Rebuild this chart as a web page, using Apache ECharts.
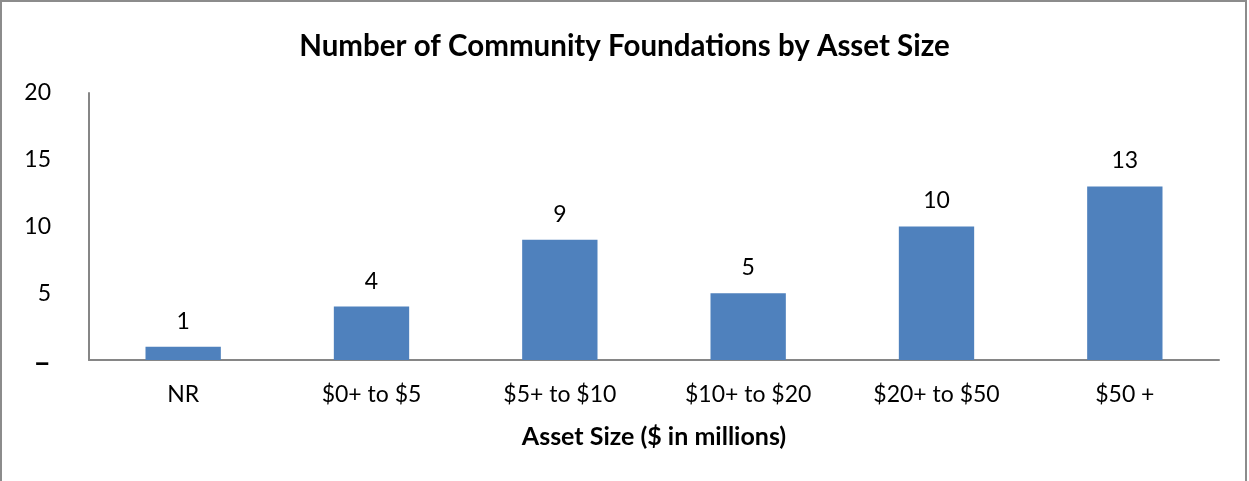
<!DOCTYPE html>
<html>
<head>
<meta charset="utf-8">
<script src="https://cdn.jsdelivr.net/npm/echarts@6/dist/echarts.min.js"></script>
<style>
  html, body { margin: 0; padding: 0; background: #fff; }
  #chart { width: 1249px; height: 481px; }
  .frame {
    position: absolute; left: 0; top: 0;
    width: 1247px; height: 490px;
    box-sizing: border-box;
    border: 2px solid #8c8c8c;
    pointer-events: none;
  }
</style>
</head>
<body>
<div id="chart"></div>
<div class="frame"></div>
<script>
// 数据
const categories = ['NR', '$0+ to $5', '$5+ to $10', '$10+ to $20', '$20+ to $50', '$50 +'];
const counts = [1, 4, 9, 5, 10, 13];
const yTicks = [0, 5, 10, 15, 20];

const font = 'Lato, "Open Sans", sans-serif';

const myChart = echarts.init(document.getElementById('chart'), null, { renderer: 'canvas' });

const option = {
  animation: false,
  title: {
    text: 'Number of Community Foundations by Asset Size',
    left: 'center',
    top: 26,
    textStyle: { color: '#000', fontSize: 29.5, fontWeight: 'bold', fontFamily: font }
  },
  grid: { left: 89, right: 30, top: 93, bottom: 121, containLabel: false },
  xAxis: {
    type: 'category',
    data: categories,
    name: 'Asset Size ($ in millions)',
    nameLocation: 'middle',
    nameGap: 64,
    nameTextStyle: { color: '#000', fontSize: 25, fontWeight: 'bold', fontFamily: font },
    axisLine: { lineStyle: { color: '#868686', width: 2 } },
    axisTick: { show: false },
    axisLabel: { color: '#000', fontSize: 23, fontFamily: font, margin: 23 }
  },
  yAxis: {
    type: 'value',
    min: yTicks[0],
    max: yTicks[yTicks.length - 1],
    interval: 5,
    axisLine: { show: true, lineStyle: { color: '#868686', width: 2 } },
    axisTick: { show: false },
    splitLine: { show: false },
    axisLabel: {
      color: '#000', fontSize: 23, fontFamily: font, margin: 38,
      formatter: v => (v === 0 ? '{d|–}' : v),
      rich: { d: { fontSize: 30, fontWeight: 'bold', fontFamily: font, color: '#000', padding: [6, 0, 0, 0] } }
    }
  },
  series: [{
    type: 'bar',
    data: counts,
    barWidth: '40%',
    itemStyle: { color: '#4F81BD' },
    label: {
      show: true, position: 'top', distance: 14,
      color: '#000', fontSize: 23, fontFamily: font
    }
  }]
};

myChart.setOption(option);
</script>
</body>
</html>
